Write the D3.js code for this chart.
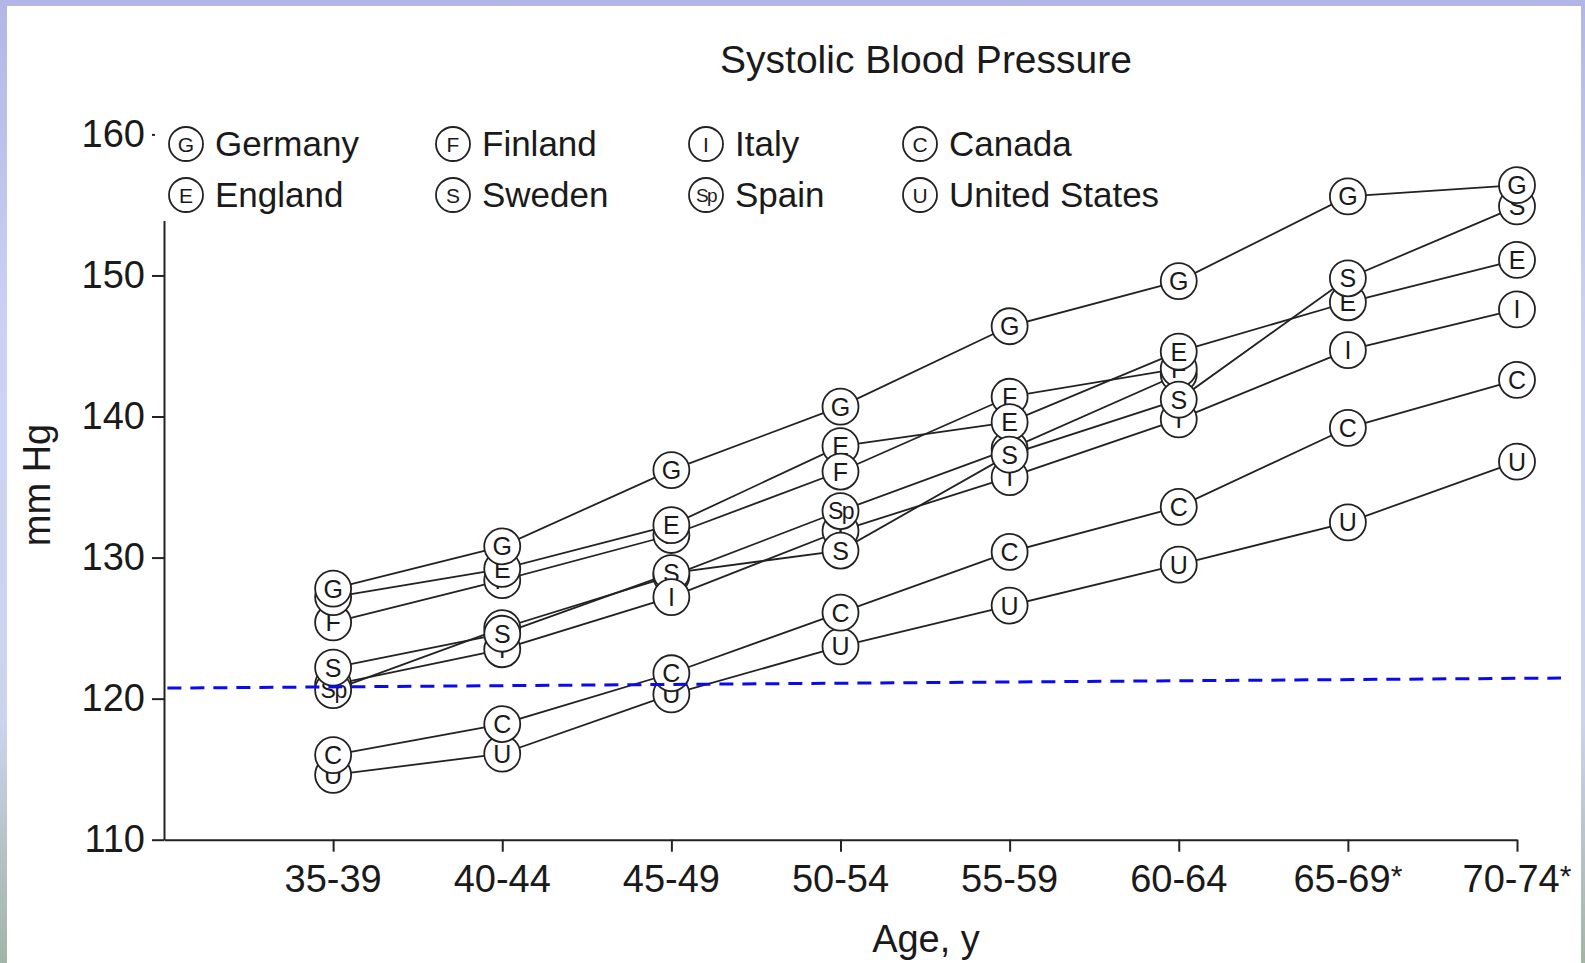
<!DOCTYPE html>
<html>
<head>
	<meta charset="utf-8" />
	<title>Systolic Blood Pressure</title>
	<script type="text/javascript" src="https://cdn.jsdelivr.net/npm/d3@7/dist/d3.min.js"></script>
	<style type="text/css">
	body {
		margin: 0;
		padding: 0;
		overflow: hidden;
	}
	svg text {
		font-family: "Liberation Sans", Arial, Helvetica, sans-serif;
		fill: #1a1a1a;
	}
	</style>
</head>
<body>

<svg id="chart" width="1585" height="963" version="1.1" xmlns="http://www.w3.org/2000/svg">
	<defs>
		<linearGradient id="frameGradient" x1="0" y1="0" x2="0" y2="1">
			<stop offset="0"    stop-color="#b1b6e6" />
			<stop offset="0.35" stop-color="#cdd2f4" />
			<stop offset="0.75" stop-color="#cbd4ec" />
			<stop offset="1"    stop-color="#a2b4a6" />
		</linearGradient>
	</defs>
</svg>

<script type="text/javascript">

// ---- data (mm Hg) ----
var ageGroups     = ["35-39" ,"40-44" ,"45-49" ,"50-54" ,"55-59" ,"60-64" ,"65-69*" ,"70-74*"];
var yTicks        = [110 ,120 ,130 ,140 ,150 ,160];

var germany       = [127.8 ,130.8 ,136.2 ,140.7 ,146.4 ,149.6 ,155.6 ,156.4];
var england       = [127.2 ,129.2 ,132.3 ,137.9 ,139.6 ,144.6 ,148.1 ,151.1];
var finland       = [125.4 ,128.4 ,131.6 ,136.1 ,141.4 ,143.4 ,null  ,null ];
var sweden        = [122.2 ,124.6 ,128.9 ,130.5 ,137.3 ,141.2 ,149.8 ,154.9];
var italy         = [121.0 ,123.5 ,127.2 ,131.9 ,135.7 ,139.8 ,144.7 ,147.6];
var spain         = [120.6 ,125.0 ,128.7 ,133.3 ,137.7 ,143.0 ,null  ,null ];
var canada        = [116.0 ,118.2 ,121.8 ,126.1 ,130.4 ,133.6 ,139.2 ,142.6];
var unitedStates  = [114.6 ,116.1 ,120.3 ,123.7 ,126.6 ,129.5 ,132.5 ,136.8];

// blue dashed reference line: [age index ,mm Hg] at both ends
var refLine       = [[-0.98 ,120.75] ,[7.26 ,121.46]];

// legend order (column by column) and drawing order (bottom to top)
var legendOrder   = ["G" ,"E" ,"F" ,"S" ,"I" ,"Sp" ,"C" ,"U"];
var drawOrder     = ["U" ,"C" ,"I" ,"Sp" ,"F" ,"E" ,"S" ,"G"];
// markers that sit on top of their neighbours in the original: [code ,age index]
var raisedMarkers = [["I" ,2] ,["F" ,3]];

var v_Countries = {
	"G":  {name: "Germany"       ,values: germany},
	"E":  {name: "England"       ,values: england},
	"F":  {name: "Finland"       ,values: finland},
	"S":  {name: "Sweden"        ,values: sweden},
	"I":  {name: "Italy"         ,values: italy},
	"Sp": {name: "Spain"         ,values: spain},
	"C":  {name: "Canada"        ,values: canada},
	"U":  {name: "United States" ,values: unitedStates}
};


var v_SVG   = d3.select("#chart");
var v_Ink   = "#222222";
var v_R     = 18;

// frame
v_SVG.append("rect")
.attr("width" ,1585)
.attr("height" ,963)
.attr("fill" ,"url(#frameGradient)");

v_SVG.append("rect")
.attr("x" ,7)
.attr("y" ,6)
.attr("width" ,1574)
.attr("height" ,963)
.attr("fill" ,"#ffffff");


var X = d3.scaleLinear().domain([-1 ,ageGroups.length - 1]).range([164 ,1517]);
var Y = d3.scaleLinear().domain([110 ,160]).range([839.7 ,134.4]);


// ---- axes ----
var v_YAxis = v_SVG.append("g")
.attr("transform" ,"translate(" + X(-1) + ",0)")
.attr("color" ,v_Ink)
.call(d3.axisLeft(Y).tickValues(yTicks).tickSize(12).tickSizeOuter(0).tickPadding(7));

v_YAxis.selectAll("path ,line").attr("stroke-width" ,2);
v_YAxis.selectAll("text")
.attr("font-size" ,38)
.attr("fill" ,"#1a1a1a")
.attr("font-family" ,"Liberation Sans, Arial, sans-serif");

var v_XAxis = v_SVG.append("g")
.attr("transform" ,"translate(0," + Y(110) + ")")
.attr("color" ,v_Ink)
.call(d3.axisBottom(X).tickValues(d3.range(ageGroups.length)).tickSize(12).tickSizeOuter(0).tickFormat(""));

v_XAxis.selectAll("path ,line").attr("stroke-width" ,2);

ageGroups.forEach(function(d ,i)
{
	var v_Parts = d.split("*");
	var v_Text  = v_SVG.append("text")
	.attr("x" ,X(i))
	.attr("y" ,Y(110) + 52)
	.attr("text-anchor" ,"middle")
	.attr("font-size" ,38)
	.text(v_Parts[0]);

	if ( d.indexOf("*") >= 0 )
	{
		v_Text.append("tspan")
		.attr("font-size" ,30)
		.attr("dy" ,-6)
		.text("*");
	}
});

// axis titles
v_SVG.append("text")
.attr("x" ,926)
.attr("y" ,952)
.attr("text-anchor" ,"middle")
.attr("font-size" ,38)
.text("Age, y");

v_SVG.append("text")
.attr("transform" ,"translate(50,485) rotate(-90)")
.attr("text-anchor" ,"middle")
.attr("font-size" ,38)
.text("mm Hg");

// chart title
v_SVG.append("text")
.attr("x" ,926)
.attr("y" ,73)
.attr("text-anchor" ,"middle")
.attr("font-size" ,39)
.text("Systolic Blood Pressure");


// ---- series lines ----
var v_Line = d3.line()
.defined(function(v) { return v != null; })
.x(function(v ,i) { return X(i); })
.y(function(v) { return Y(v); });

drawOrder.forEach(function(code)
{
	v_SVG.append("path")
	.attr("d" ,v_Line(v_Countries[code].values))
	.attr("fill" ,"none")
	.attr("stroke" ,v_Ink)
	.attr("stroke-width" ,1.8);
});


function drawMarker(i_G ,i_X ,i_Y ,i_Code ,i_R ,i_Size)
{
	i_G.append("circle")
	.attr("cx" ,i_X)
	.attr("cy" ,i_Y)
	.attr("r" ,i_R)
	.attr("fill" ,"#ffffff")
	.attr("stroke" ,v_Ink)
	.attr("stroke-width" ,1.8);

	i_G.append("text")
	.attr("x" ,i_X)
	.attr("y" ,i_Y)
	.attr("dy" ,"0.36em")
	.attr("text-anchor" ,"middle")
	.attr("font-size" ,i_Code == "Sp" ? i_Size - 2 : i_Size)
	.attr("letter-spacing" ,i_Code == "Sp" ? -1.5 : 0)
	.text(i_Code);
}

function isRaised(i_Code ,i_Index)
{
	return raisedMarkers.some(function(m) { return m[0] == i_Code && m[1] == i_Index; });
}

// ---- markers ----
var v_Markers = v_SVG.append("g");
var v_Raised  = v_SVG.append("g");

drawOrder.forEach(function(code)
{
	v_Countries[code].values.forEach(function(v ,i)
	{
		if ( v != null )
		{
			drawMarker(isRaised(code ,i) ? v_Raised : v_Markers ,X(i) ,Y(v) ,code ,v_R ,25);
		}
	});
});


// ---- legend ----
var v_Legend = v_SVG.append("g");

v_Legend.append("rect")
.attr("x" ,155)
.attr("y" ,110)
.attr("width" ,1010)
.attr("height" ,111)
.attr("fill" ,"#ffffff");

var v_LegendCols = [186 ,453 ,706 ,920];
var v_LegendRows = [144 ,195];

legendOrder.forEach(function(code ,k)
{
	var v_X = v_LegendCols[Math.floor(k / 2)];
	var v_Y = v_LegendRows[k % 2];

	drawMarker(v_Legend ,v_X ,v_Y ,code ,17 ,21);

	v_Legend.append("text")
	.attr("x" ,v_X + 29)
	.attr("y" ,v_Y)
	.attr("dy" ,"0.35em")
	.attr("font-size" ,35)
	.text(v_Countries[code].name);
});


// ---- blue dashed reference ----
v_SVG.append("line")
.attr("x1" ,X(refLine[0][0]))
.attr("y1" ,Y(refLine[0][1]))
.attr("x2" ,X(refLine[1][0]))
.attr("y2" ,Y(refLine[1][1]))
.attr("stroke" ,"#0a0aee")
.attr("stroke-width" ,3)
.attr("stroke-dasharray" ,"14,9");

</script>

</body>
</html>
